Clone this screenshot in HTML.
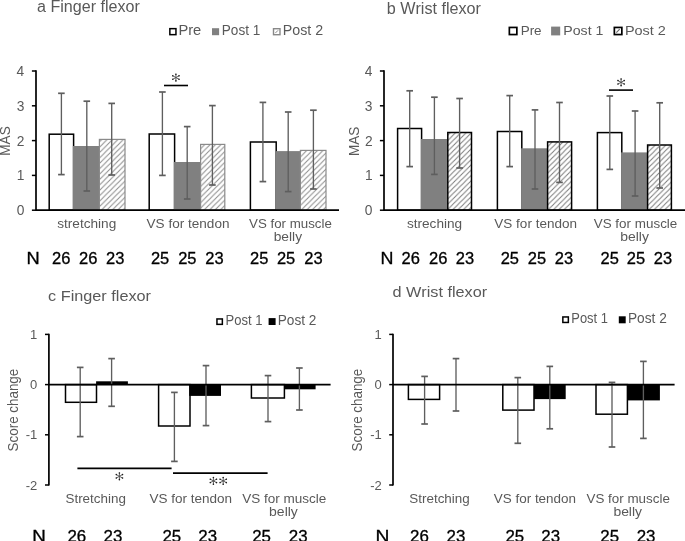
<!DOCTYPE html>
<html><head><meta charset="utf-8"><style>
html,body{margin:0;padding:0;background:#fff;width:685px;height:541px;overflow:hidden;}
svg{display:block;will-change:transform;font-family:"Liberation Sans",sans-serif;font-kerning:none;}
</style></head><body>
<svg width="685" height="541" viewBox="0 0 685 541">
<defs>
<pattern id="hatchA" patternUnits="userSpaceOnUse" x="3.7" width="5.4" height="5.4">
<path d="M-1,6.4 L6.4,-1 M-1,1 L1,-1 M4.4,6.4 L6.4,4.4" stroke="#8a8a8a" stroke-width="1"/>
</pattern>
<pattern id="hatchB" patternUnits="userSpaceOnUse" x="0" width="5.3" height="5.3">
<path d="M-1,6.3 L6.3,-1 M-1,1 L1,-1 M4.3,6.3 L6.3,4.3" stroke="#7a7a7a" stroke-width="1"/>
</pattern>
</defs>
<rect width="685" height="541" fill="#fff"/>
<text x="37.02" y="12" font-size="16" fill="#595959" textLength="102.75" lengthAdjust="spacingAndGlyphs">a Finger flexor</text>
<rect x="169.85" y="28.65" width="6.10" height="6.00" fill="#fff" stroke="#000" stroke-width="1.5"/>
<text x="178.40" y="35.4" font-size="14.5" fill="#595959" textLength="22.86" lengthAdjust="spacingAndGlyphs">Pre</text>
<rect x="212.00" y="28.20" width="7.10" height="7.00" fill="#808080"/>
<text x="221.79" y="35.3" font-size="14.5" fill="#595959" textLength="38.48" lengthAdjust="spacingAndGlyphs">Post 1</text>
<rect x="273.50" y="28.70" width="6.50" height="6.00" fill="#fff" stroke="#888" stroke-width="1.4"/>
<line x1="275.30" y1="33.10" x2="278.10" y2="30.30" stroke="#888" stroke-width="1.0"/>
<text x="282.73" y="35.3" font-size="14.5" fill="#595959" textLength="40.39" lengthAdjust="spacingAndGlyphs">Post 2</text>
<line x1="36.00" y1="70.30" x2="36.00" y2="210.90" stroke="#000" stroke-width="1.7"/>
<line x1="31.90" y1="210.20" x2="36.00" y2="210.20" stroke="#000" stroke-width="1.5"/>
<text x="16.66" y="215.12" font-size="13.8" fill="#595959" textLength="7.67" lengthAdjust="spacingAndGlyphs">0</text>
<line x1="31.90" y1="175.40" x2="36.00" y2="175.40" stroke="#000" stroke-width="1.5"/>
<text x="16.80" y="180.32" font-size="13.8" fill="#595959" textLength="7.67" lengthAdjust="spacingAndGlyphs">1</text>
<line x1="31.90" y1="140.60" x2="36.00" y2="140.60" stroke="#000" stroke-width="1.5"/>
<text x="16.82" y="145.52" font-size="13.8" fill="#595959" textLength="7.67" lengthAdjust="spacingAndGlyphs">2</text>
<line x1="31.90" y1="105.80" x2="36.00" y2="105.80" stroke="#000" stroke-width="1.5"/>
<text x="16.73" y="110.72" font-size="13.8" fill="#595959" textLength="7.67" lengthAdjust="spacingAndGlyphs">3</text>
<line x1="31.90" y1="71.00" x2="36.00" y2="71.00" stroke="#000" stroke-width="1.5"/>
<text x="16.53" y="75.92" font-size="13.8" fill="#595959" textLength="7.67" lengthAdjust="spacingAndGlyphs">4</text>
<text transform="translate(10.2,154.6) rotate(-90)" x="-1.11" y="0" font-size="14.5" fill="#595959" textLength="29.44" lengthAdjust="spacingAndGlyphs">MAS</text>
<rect x="49.20" y="134.20" width="24.40" height="76.00" fill="#fff" stroke="#000" stroke-width="1.5"/>
<rect x="72.85" y="146.00" width="26.55" height="64.20" fill="#808080"/>
<rect x="99.40" y="139.40" width="25.60" height="70.80" fill="url(#hatchA)" stroke="#8a8a8a" stroke-width="1.2"/>
<line x1="61.40" y1="93.30" x2="61.40" y2="174.60" stroke="#5e5e5e" stroke-width="1.35"/>
<line x1="58.10" y1="93.30" x2="64.70" y2="93.30" stroke="#5e5e5e" stroke-width="1.7"/>
<line x1="58.10" y1="174.60" x2="64.70" y2="174.60" stroke="#5e5e5e" stroke-width="1.7"/>
<line x1="86.80" y1="101.20" x2="86.80" y2="191.00" stroke="#5e5e5e" stroke-width="1.35"/>
<line x1="83.50" y1="101.20" x2="90.10" y2="101.20" stroke="#5e5e5e" stroke-width="1.7"/>
<line x1="83.50" y1="191.00" x2="90.10" y2="191.00" stroke="#5e5e5e" stroke-width="1.7"/>
<line x1="111.70" y1="103.40" x2="111.70" y2="175.00" stroke="#5e5e5e" stroke-width="1.35"/>
<line x1="108.40" y1="103.40" x2="115.00" y2="103.40" stroke="#5e5e5e" stroke-width="1.7"/>
<line x1="108.40" y1="175.00" x2="115.00" y2="175.00" stroke="#5e5e5e" stroke-width="1.7"/>
<rect x="149.20" y="134.00" width="25.40" height="76.20" fill="#fff" stroke="#000" stroke-width="1.5"/>
<rect x="173.85" y="162.00" width="26.75" height="48.20" fill="#808080"/>
<rect x="200.60" y="144.40" width="24.20" height="65.80" fill="url(#hatchA)" stroke="#8a8a8a" stroke-width="1.2"/>
<line x1="162.40" y1="92.00" x2="162.40" y2="175.40" stroke="#5e5e5e" stroke-width="1.35"/>
<line x1="159.10" y1="92.00" x2="165.70" y2="92.00" stroke="#5e5e5e" stroke-width="1.7"/>
<line x1="159.10" y1="175.40" x2="165.70" y2="175.40" stroke="#5e5e5e" stroke-width="1.7"/>
<line x1="187.20" y1="126.60" x2="187.20" y2="199.00" stroke="#5e5e5e" stroke-width="1.35"/>
<line x1="183.90" y1="126.60" x2="190.50" y2="126.60" stroke="#5e5e5e" stroke-width="1.7"/>
<line x1="183.90" y1="199.00" x2="190.50" y2="199.00" stroke="#5e5e5e" stroke-width="1.7"/>
<line x1="212.40" y1="105.60" x2="212.40" y2="185.00" stroke="#5e5e5e" stroke-width="1.35"/>
<line x1="209.10" y1="105.60" x2="215.70" y2="105.60" stroke="#5e5e5e" stroke-width="1.7"/>
<line x1="209.10" y1="185.00" x2="215.70" y2="185.00" stroke="#5e5e5e" stroke-width="1.7"/>
<rect x="250.40" y="142.00" width="25.80" height="68.20" fill="#fff" stroke="#000" stroke-width="1.5"/>
<rect x="275.45" y="151.10" width="24.95" height="59.10" fill="#808080"/>
<rect x="300.40" y="150.40" width="25.60" height="59.80" fill="url(#hatchA)" stroke="#8a8a8a" stroke-width="1.2"/>
<line x1="262.90" y1="102.40" x2="262.90" y2="181.60" stroke="#5e5e5e" stroke-width="1.35"/>
<line x1="259.60" y1="102.40" x2="266.20" y2="102.40" stroke="#5e5e5e" stroke-width="1.7"/>
<line x1="259.60" y1="181.60" x2="266.20" y2="181.60" stroke="#5e5e5e" stroke-width="1.7"/>
<line x1="288.20" y1="112.00" x2="288.20" y2="191.60" stroke="#5e5e5e" stroke-width="1.35"/>
<line x1="284.90" y1="112.00" x2="291.50" y2="112.00" stroke="#5e5e5e" stroke-width="1.7"/>
<line x1="284.90" y1="191.60" x2="291.50" y2="191.60" stroke="#5e5e5e" stroke-width="1.7"/>
<line x1="313.40" y1="110.20" x2="313.40" y2="189.00" stroke="#5e5e5e" stroke-width="1.35"/>
<line x1="310.10" y1="110.20" x2="316.70" y2="110.20" stroke="#5e5e5e" stroke-width="1.7"/>
<line x1="310.10" y1="189.00" x2="316.70" y2="189.00" stroke="#5e5e5e" stroke-width="1.7"/>
<line x1="36.00" y1="210.20" x2="339.00" y2="210.20" stroke="#000" stroke-width="1.8"/>
<line x1="164.00" y1="85.50" x2="188.00" y2="85.50" stroke="#000" stroke-width="1.6"/>
<g stroke="#505050" stroke-width="0.9" stroke-linecap="round"><line x1="175.90" y1="74.20" x2="175.90" y2="80.90"/><line x1="179.00" y1="75.85" x2="172.80" y2="79.25"/><line x1="179.00" y1="79.25" x2="172.80" y2="75.85"/></g><g fill="#1e1e1e"><circle cx="175.90" cy="74.20" r="0.8"/><circle cx="179.00" cy="75.85" r="0.8"/><circle cx="179.00" cy="79.25" r="0.8"/><circle cx="175.90" cy="80.90" r="0.8"/><circle cx="172.80" cy="79.25" r="0.8"/><circle cx="172.80" cy="75.85" r="0.8"/></g>
<text x="57.22" y="228" font-size="13.5" fill="#595959" textLength="59.06" lengthAdjust="spacingAndGlyphs">stretching</text>
<text x="146.54" y="227.8" font-size="13.5" fill="#595959" textLength="82.94" lengthAdjust="spacingAndGlyphs">VS for tendon</text>
<text x="249.04" y="227.8" font-size="13.5" fill="#595959" textLength="82.75" lengthAdjust="spacingAndGlyphs">VS for muscle</text>
<text x="273.71" y="241.2" font-size="13.5" fill="#595959" textLength="28.31" lengthAdjust="spacingAndGlyphs">belly</text>
<text x="26.40" y="263.8" font-size="16.3" fill="#000" textLength="13.19" lengthAdjust="spacingAndGlyphs" stroke="#000" stroke-width="0.3">N</text>
<text x="52.07" y="263.8" font-size="16.3" fill="#000" textLength="18.36" lengthAdjust="spacingAndGlyphs" stroke="#000" stroke-width="0.3">26</text>
<text x="79.02" y="263.8" font-size="16.3" fill="#000" textLength="18.36" lengthAdjust="spacingAndGlyphs" stroke="#000" stroke-width="0.3">26</text>
<text x="106.02" y="263.8" font-size="16.3" fill="#000" textLength="18.36" lengthAdjust="spacingAndGlyphs" stroke="#000" stroke-width="0.3">23</text>
<text x="150.97" y="263.8" font-size="16.3" fill="#000" textLength="18.32" lengthAdjust="spacingAndGlyphs" stroke="#000" stroke-width="0.3">25</text>
<text x="178.22" y="263.8" font-size="16.3" fill="#000" textLength="18.32" lengthAdjust="spacingAndGlyphs" stroke="#000" stroke-width="0.3">25</text>
<text x="205.27" y="263.8" font-size="16.3" fill="#000" textLength="18.36" lengthAdjust="spacingAndGlyphs" stroke="#000" stroke-width="0.3">23</text>
<text x="250.02" y="263.8" font-size="16.3" fill="#000" textLength="18.32" lengthAdjust="spacingAndGlyphs" stroke="#000" stroke-width="0.3">25</text>
<text x="276.97" y="263.8" font-size="16.3" fill="#000" textLength="18.32" lengthAdjust="spacingAndGlyphs" stroke="#000" stroke-width="0.3">25</text>
<text x="304.37" y="263.8" font-size="16.3" fill="#000" textLength="18.36" lengthAdjust="spacingAndGlyphs" stroke="#000" stroke-width="0.3">23</text>
<text x="386.76" y="13.5" font-size="16" fill="#595959" textLength="94.21" lengthAdjust="spacingAndGlyphs">b Wrist flexor</text>
<rect x="509.35" y="27.45" width="7.50" height="7.10" fill="#fff" stroke="#000" stroke-width="1.7"/>
<text x="520.70" y="35.4" font-size="13" fill="#595959" textLength="20.90" lengthAdjust="spacingAndGlyphs">Pre</text>
<rect x="551.10" y="26.60" width="9.10" height="8.80" fill="#808080"/>
<text x="563.34" y="35.4" font-size="13" fill="#595959" textLength="40.05" lengthAdjust="spacingAndGlyphs">Post 1</text>
<rect x="614.35" y="27.45" width="7.50" height="7.10" fill="#fff" stroke="#000" stroke-width="1.7"/>
<line x1="616.30" y1="32.60" x2="619.70" y2="29.20" stroke="#666" stroke-width="1.1"/>
<text x="624.91" y="35.4" font-size="13" fill="#595959" textLength="41.01" lengthAdjust="spacingAndGlyphs">Post 2</text>
<line x1="384.00" y1="70.30" x2="384.00" y2="210.90" stroke="#000" stroke-width="1.7"/>
<line x1="379.90" y1="210.20" x2="384.00" y2="210.20" stroke="#000" stroke-width="1.5"/>
<text x="364.76" y="215.12" font-size="13.8" fill="#595959" textLength="7.67" lengthAdjust="spacingAndGlyphs">0</text>
<line x1="379.90" y1="175.40" x2="384.00" y2="175.40" stroke="#000" stroke-width="1.5"/>
<text x="364.90" y="180.32" font-size="13.8" fill="#595959" textLength="7.67" lengthAdjust="spacingAndGlyphs">1</text>
<line x1="379.90" y1="140.60" x2="384.00" y2="140.60" stroke="#000" stroke-width="1.5"/>
<text x="364.92" y="145.52" font-size="13.8" fill="#595959" textLength="7.67" lengthAdjust="spacingAndGlyphs">2</text>
<line x1="379.90" y1="105.80" x2="384.00" y2="105.80" stroke="#000" stroke-width="1.5"/>
<text x="364.83" y="110.72" font-size="13.8" fill="#595959" textLength="7.67" lengthAdjust="spacingAndGlyphs">3</text>
<line x1="379.90" y1="71.00" x2="384.00" y2="71.00" stroke="#000" stroke-width="1.5"/>
<text x="364.63" y="75.92" font-size="13.8" fill="#595959" textLength="7.67" lengthAdjust="spacingAndGlyphs">4</text>
<text transform="translate(358.5,154.9) rotate(-90)" x="-1.11" y="0" font-size="14.5" fill="#595959" textLength="29.44" lengthAdjust="spacingAndGlyphs">MAS</text>
<rect x="397.60" y="128.50" width="24.00" height="81.70" fill="#fff" stroke="#000" stroke-width="1.5"/>
<rect x="420.85" y="139.00" width="26.55" height="71.20" fill="#808080"/>
<rect x="447.80" y="132.50" width="23.70" height="77.70" fill="url(#hatchB)" stroke="#000" stroke-width="1.5"/>
<line x1="409.70" y1="90.80" x2="409.70" y2="166.60" stroke="#5e5e5e" stroke-width="1.35"/>
<line x1="406.40" y1="90.80" x2="413.00" y2="90.80" stroke="#5e5e5e" stroke-width="1.7"/>
<line x1="406.40" y1="166.60" x2="413.00" y2="166.60" stroke="#5e5e5e" stroke-width="1.7"/>
<line x1="434.40" y1="97.20" x2="434.40" y2="174.40" stroke="#5e5e5e" stroke-width="1.35"/>
<line x1="431.10" y1="97.20" x2="437.70" y2="97.20" stroke="#5e5e5e" stroke-width="1.7"/>
<line x1="431.10" y1="174.40" x2="437.70" y2="174.40" stroke="#5e5e5e" stroke-width="1.7"/>
<line x1="459.60" y1="98.50" x2="459.60" y2="168.00" stroke="#5e5e5e" stroke-width="1.35"/>
<line x1="456.30" y1="98.50" x2="462.90" y2="98.50" stroke="#5e5e5e" stroke-width="1.7"/>
<line x1="456.30" y1="168.00" x2="462.90" y2="168.00" stroke="#5e5e5e" stroke-width="1.7"/>
<rect x="497.40" y="131.50" width="24.40" height="78.70" fill="#fff" stroke="#000" stroke-width="1.5"/>
<rect x="521.05" y="148.30" width="26.15" height="61.90" fill="#808080"/>
<rect x="547.60" y="141.90" width="24.00" height="68.30" fill="url(#hatchB)" stroke="#000" stroke-width="1.5"/>
<line x1="509.70" y1="95.60" x2="509.70" y2="166.60" stroke="#5e5e5e" stroke-width="1.35"/>
<line x1="506.40" y1="95.60" x2="513.00" y2="95.60" stroke="#5e5e5e" stroke-width="1.7"/>
<line x1="506.40" y1="166.60" x2="513.00" y2="166.60" stroke="#5e5e5e" stroke-width="1.7"/>
<line x1="535.00" y1="109.90" x2="535.00" y2="189.00" stroke="#5e5e5e" stroke-width="1.35"/>
<line x1="531.70" y1="109.90" x2="538.30" y2="109.90" stroke="#5e5e5e" stroke-width="1.7"/>
<line x1="531.70" y1="189.00" x2="538.30" y2="189.00" stroke="#5e5e5e" stroke-width="1.7"/>
<line x1="559.50" y1="102.50" x2="559.50" y2="182.40" stroke="#5e5e5e" stroke-width="1.35"/>
<line x1="556.20" y1="102.50" x2="562.80" y2="102.50" stroke="#5e5e5e" stroke-width="1.7"/>
<line x1="556.20" y1="182.40" x2="562.80" y2="182.40" stroke="#5e5e5e" stroke-width="1.7"/>
<rect x="597.40" y="132.60" width="24.40" height="77.60" fill="#fff" stroke="#000" stroke-width="1.5"/>
<rect x="621.05" y="152.40" width="26.15" height="57.80" fill="#808080"/>
<rect x="647.60" y="145.00" width="23.80" height="65.20" fill="url(#hatchB)" stroke="#000" stroke-width="1.5"/>
<line x1="609.80" y1="96.00" x2="609.80" y2="169.40" stroke="#5e5e5e" stroke-width="1.35"/>
<line x1="606.50" y1="96.00" x2="613.10" y2="96.00" stroke="#5e5e5e" stroke-width="1.7"/>
<line x1="606.50" y1="169.40" x2="613.10" y2="169.40" stroke="#5e5e5e" stroke-width="1.7"/>
<line x1="635.10" y1="111.00" x2="635.10" y2="196.00" stroke="#5e5e5e" stroke-width="1.35"/>
<line x1="631.80" y1="111.00" x2="638.40" y2="111.00" stroke="#5e5e5e" stroke-width="1.7"/>
<line x1="631.80" y1="196.00" x2="638.40" y2="196.00" stroke="#5e5e5e" stroke-width="1.7"/>
<line x1="659.70" y1="102.80" x2="659.70" y2="188.00" stroke="#5e5e5e" stroke-width="1.35"/>
<line x1="656.40" y1="102.80" x2="663.00" y2="102.80" stroke="#5e5e5e" stroke-width="1.7"/>
<line x1="656.40" y1="188.00" x2="663.00" y2="188.00" stroke="#5e5e5e" stroke-width="1.7"/>
<line x1="384.00" y1="210.20" x2="685.00" y2="210.20" stroke="#000" stroke-width="1.8"/>
<line x1="609.00" y1="90.10" x2="633.00" y2="90.10" stroke="#000" stroke-width="1.6"/>
<g stroke="#505050" stroke-width="0.9" stroke-linecap="round"><line x1="621.10" y1="78.95" x2="621.10" y2="85.65"/><line x1="624.20" y1="80.60" x2="618.00" y2="84.00"/><line x1="624.20" y1="84.00" x2="618.00" y2="80.60"/></g><g fill="#1e1e1e"><circle cx="621.10" cy="78.95" r="0.8"/><circle cx="624.20" cy="80.60" r="0.8"/><circle cx="624.20" cy="84.00" r="0.8"/><circle cx="621.10" cy="85.65" r="0.8"/><circle cx="618.00" cy="84.00" r="0.8"/><circle cx="618.00" cy="80.60" r="0.8"/></g>
<text x="406.92" y="228.2" font-size="13.5" fill="#595959" textLength="55.26" lengthAdjust="spacingAndGlyphs">streching</text>
<text x="494.34" y="228.0" font-size="13.5" fill="#595959" textLength="82.64" lengthAdjust="spacingAndGlyphs">VS for tendon</text>
<text x="593.74" y="228.0" font-size="13.5" fill="#595959" textLength="83.56" lengthAdjust="spacingAndGlyphs">VS for muscle</text>
<text x="620.30" y="241.2" font-size="13.5" fill="#595959" textLength="28.62" lengthAdjust="spacingAndGlyphs">belly</text>
<text x="380.53" y="263.8" font-size="16.3" fill="#000" textLength="12.93" lengthAdjust="spacingAndGlyphs" stroke="#000" stroke-width="0.3">N</text>
<text x="401.52" y="263.8" font-size="16.3" fill="#000" textLength="18.36" lengthAdjust="spacingAndGlyphs" stroke="#000" stroke-width="0.3">26</text>
<text x="429.02" y="263.8" font-size="16.3" fill="#000" textLength="18.36" lengthAdjust="spacingAndGlyphs" stroke="#000" stroke-width="0.3">26</text>
<text x="455.87" y="263.8" font-size="16.3" fill="#000" textLength="18.36" lengthAdjust="spacingAndGlyphs" stroke="#000" stroke-width="0.3">23</text>
<text x="500.67" y="263.8" font-size="16.3" fill="#000" textLength="18.32" lengthAdjust="spacingAndGlyphs" stroke="#000" stroke-width="0.3">25</text>
<text x="527.77" y="263.8" font-size="16.3" fill="#000" textLength="18.32" lengthAdjust="spacingAndGlyphs" stroke="#000" stroke-width="0.3">25</text>
<text x="554.87" y="263.8" font-size="16.3" fill="#000" textLength="18.36" lengthAdjust="spacingAndGlyphs" stroke="#000" stroke-width="0.3">23</text>
<text x="600.52" y="263.8" font-size="16.3" fill="#000" textLength="18.32" lengthAdjust="spacingAndGlyphs" stroke="#000" stroke-width="0.3">25</text>
<text x="626.87" y="263.8" font-size="16.3" fill="#000" textLength="18.32" lengthAdjust="spacingAndGlyphs" stroke="#000" stroke-width="0.3">25</text>
<text x="653.82" y="263.8" font-size="16.3" fill="#000" textLength="18.36" lengthAdjust="spacingAndGlyphs" stroke="#000" stroke-width="0.3">23</text>
<text x="48.11" y="300.9" font-size="15.5" fill="#595959" textLength="102.86" lengthAdjust="spacingAndGlyphs">c Finger flexor</text>
<rect x="216.95" y="318.95" width="5.40" height="5.40" fill="#fff" stroke="#000" stroke-width="1.5"/>
<text x="225.53" y="325.4" font-size="14" fill="#595959" textLength="36.90" lengthAdjust="spacingAndGlyphs">Post 1</text>
<rect x="268.60" y="318.10" width="7.00" height="6.90" fill="#000"/>
<text x="277.78" y="325.4" font-size="14" fill="#595959" textLength="38.71" lengthAdjust="spacingAndGlyphs">Post 2</text>
<line x1="48.90" y1="333.80" x2="48.90" y2="485.60" stroke="#000" stroke-width="1.7"/>
<line x1="45.00" y1="334.40" x2="48.90" y2="334.40" stroke="#000" stroke-width="1.5"/>
<text x="30.00" y="339.04" font-size="13" fill="#595959" textLength="7.23" lengthAdjust="spacingAndGlyphs">1</text>
<line x1="45.00" y1="384.60" x2="48.90" y2="384.60" stroke="#000" stroke-width="1.5"/>
<text x="29.88" y="389.24" font-size="13" fill="#595959" textLength="7.23" lengthAdjust="spacingAndGlyphs">0</text>
<line x1="45.00" y1="434.80" x2="48.90" y2="434.80" stroke="#000" stroke-width="1.5"/>
<text x="25.68" y="439.44" font-size="13" fill="#595959" textLength="11.56" lengthAdjust="spacingAndGlyphs">-1</text>
<line x1="45.00" y1="485.00" x2="48.90" y2="485.00" stroke="#000" stroke-width="1.5"/>
<text x="25.69" y="489.64" font-size="13" fill="#595959" textLength="11.56" lengthAdjust="spacingAndGlyphs">-2</text>
<text transform="translate(17.5,450.8) rotate(-90)" x="-0.61" y="0" font-size="14" fill="#595959" textLength="82.70" lengthAdjust="spacingAndGlyphs">Score change</text>
<rect x="65.50" y="384.60" width="31.00" height="17.70" fill="#fff" stroke="#000" stroke-width="1.5"/>
<rect x="96.10" y="381.30" width="31.80" height="3.30" fill="#000"/>
<line x1="80.20" y1="367.40" x2="80.20" y2="436.60" stroke="#5e5e5e" stroke-width="1.35"/>
<line x1="76.90" y1="367.40" x2="83.50" y2="367.40" stroke="#5e5e5e" stroke-width="1.7"/>
<line x1="76.90" y1="436.60" x2="83.50" y2="436.60" stroke="#5e5e5e" stroke-width="1.7"/>
<line x1="111.60" y1="358.60" x2="111.60" y2="406.30" stroke="#5e5e5e" stroke-width="1.35"/>
<line x1="108.30" y1="358.60" x2="114.90" y2="358.60" stroke="#5e5e5e" stroke-width="1.7"/>
<line x1="108.30" y1="406.30" x2="114.90" y2="406.30" stroke="#5e5e5e" stroke-width="1.7"/>
<rect x="158.60" y="384.60" width="31.40" height="41.40" fill="#fff" stroke="#000" stroke-width="1.5"/>
<rect x="189.20" y="384.60" width="31.80" height="11.30" fill="#000"/>
<line x1="174.40" y1="392.40" x2="174.40" y2="461.40" stroke="#5e5e5e" stroke-width="1.35"/>
<line x1="171.10" y1="392.40" x2="177.70" y2="392.40" stroke="#5e5e5e" stroke-width="1.7"/>
<line x1="171.10" y1="461.40" x2="177.70" y2="461.40" stroke="#5e5e5e" stroke-width="1.7"/>
<line x1="206.00" y1="365.60" x2="206.00" y2="425.60" stroke="#5e5e5e" stroke-width="1.35"/>
<line x1="202.70" y1="365.60" x2="209.30" y2="365.60" stroke="#5e5e5e" stroke-width="1.7"/>
<line x1="202.70" y1="425.60" x2="209.30" y2="425.60" stroke="#5e5e5e" stroke-width="1.7"/>
<rect x="251.40" y="384.60" width="33.00" height="13.40" fill="#fff" stroke="#000" stroke-width="1.5"/>
<rect x="284.40" y="384.60" width="31.20" height="4.70" fill="#000"/>
<line x1="268.00" y1="375.60" x2="268.00" y2="421.60" stroke="#5e5e5e" stroke-width="1.35"/>
<line x1="264.70" y1="375.60" x2="271.30" y2="375.60" stroke="#5e5e5e" stroke-width="1.7"/>
<line x1="264.70" y1="421.60" x2="271.30" y2="421.60" stroke="#5e5e5e" stroke-width="1.7"/>
<line x1="299.40" y1="368.00" x2="299.40" y2="410.00" stroke="#5e5e5e" stroke-width="1.35"/>
<line x1="296.10" y1="368.00" x2="302.70" y2="368.00" stroke="#5e5e5e" stroke-width="1.7"/>
<line x1="296.10" y1="410.00" x2="302.70" y2="410.00" stroke="#5e5e5e" stroke-width="1.7"/>
<line x1="48.90" y1="384.60" x2="330.60" y2="384.60" stroke="#000" stroke-width="1.8"/>
<line x1="77.40" y1="468.40" x2="171.60" y2="468.40" stroke="#000" stroke-width="1.6"/>
<g stroke="#505050" stroke-width="0.9" stroke-linecap="round"><line x1="119.40" y1="472.95" x2="119.40" y2="479.65"/><line x1="122.50" y1="474.60" x2="116.30" y2="478.00"/><line x1="122.50" y1="478.00" x2="116.30" y2="474.60"/></g><g fill="#1e1e1e"><circle cx="119.40" cy="472.95" r="0.8"/><circle cx="122.50" cy="474.60" r="0.8"/><circle cx="122.50" cy="478.00" r="0.8"/><circle cx="119.40" cy="479.65" r="0.8"/><circle cx="116.30" cy="478.00" r="0.8"/><circle cx="116.30" cy="474.60" r="0.8"/></g>
<line x1="173.00" y1="473.20" x2="267.60" y2="473.20" stroke="#000" stroke-width="1.7"/>
<g stroke="#505050" stroke-width="0.9" stroke-linecap="round"><line x1="213.40" y1="477.55" x2="213.40" y2="484.25"/><line x1="216.50" y1="479.20" x2="210.30" y2="482.60"/><line x1="216.50" y1="482.60" x2="210.30" y2="479.20"/></g><g fill="#1e1e1e"><circle cx="213.40" cy="477.55" r="0.8"/><circle cx="216.50" cy="479.20" r="0.8"/><circle cx="216.50" cy="482.60" r="0.8"/><circle cx="213.40" cy="484.25" r="0.8"/><circle cx="210.30" cy="482.60" r="0.8"/><circle cx="210.30" cy="479.20" r="0.8"/></g>
<g stroke="#505050" stroke-width="0.9" stroke-linecap="round"><line x1="223.20" y1="477.55" x2="223.20" y2="484.25"/><line x1="226.30" y1="479.20" x2="220.10" y2="482.60"/><line x1="226.30" y1="482.60" x2="220.10" y2="479.20"/></g><g fill="#1e1e1e"><circle cx="223.20" cy="477.55" r="0.8"/><circle cx="226.30" cy="479.20" r="0.8"/><circle cx="226.30" cy="482.60" r="0.8"/><circle cx="223.20" cy="484.25" r="0.8"/><circle cx="220.10" cy="482.60" r="0.8"/><circle cx="220.10" cy="479.20" r="0.8"/></g>
<text x="65.49" y="502.9" font-size="13.5" fill="#595959" textLength="60.37" lengthAdjust="spacingAndGlyphs">Stretching</text>
<text x="149.44" y="502.9" font-size="13.5" fill="#595959" textLength="82.64" lengthAdjust="spacingAndGlyphs">VS for tendon</text>
<text x="242.24" y="502.9" font-size="13.5" fill="#595959" textLength="84.16" lengthAdjust="spacingAndGlyphs">VS for muscle</text>
<text x="269.10" y="516" font-size="13.5" fill="#595959" textLength="28.73" lengthAdjust="spacingAndGlyphs">belly</text>
<text x="32.26" y="541.5" font-size="16.3" fill="#000" textLength="13.57" lengthAdjust="spacingAndGlyphs" stroke="#000" stroke-width="0.3">N</text>
<text x="67.40" y="541.5" font-size="16.3" fill="#000" textLength="18.79" lengthAdjust="spacingAndGlyphs" stroke="#000" stroke-width="0.3">26</text>
<text x="103.50" y="541.5" font-size="16.3" fill="#000" textLength="18.79" lengthAdjust="spacingAndGlyphs" stroke="#000" stroke-width="0.3">23</text>
<text x="162.40" y="541.5" font-size="16.3" fill="#000" textLength="18.76" lengthAdjust="spacingAndGlyphs" stroke="#000" stroke-width="0.3">25</text>
<text x="198.35" y="541.5" font-size="16.3" fill="#000" textLength="18.79" lengthAdjust="spacingAndGlyphs" stroke="#000" stroke-width="0.3">23</text>
<text x="252.20" y="541.5" font-size="16.3" fill="#000" textLength="18.76" lengthAdjust="spacingAndGlyphs" stroke="#000" stroke-width="0.3">25</text>
<text x="288.85" y="541.5" font-size="16.3" fill="#000" textLength="18.79" lengthAdjust="spacingAndGlyphs" stroke="#000" stroke-width="0.3">23</text>
<text x="392.42" y="297.1" font-size="15.5" fill="#595959" textLength="94.75" lengthAdjust="spacingAndGlyphs">d Wrist flexor</text>
<rect x="562.85" y="316.95" width="5.50" height="5.50" fill="#fff" stroke="#000" stroke-width="1.5"/>
<text x="571.34" y="323.4" font-size="14" fill="#595959" textLength="36.59" lengthAdjust="spacingAndGlyphs">Post 1</text>
<rect x="618.80" y="316.30" width="6.90" height="7.00" fill="#000"/>
<text x="627.98" y="323.4" font-size="14" fill="#595959" textLength="38.81" lengthAdjust="spacingAndGlyphs">Post 2</text>
<line x1="393.00" y1="333.80" x2="393.00" y2="485.60" stroke="#000" stroke-width="1.7"/>
<line x1="389.20" y1="334.40" x2="393.00" y2="334.40" stroke="#000" stroke-width="1.5"/>
<text x="374.60" y="339.04" font-size="13" fill="#595959" textLength="7.23" lengthAdjust="spacingAndGlyphs">1</text>
<line x1="389.20" y1="384.60" x2="393.00" y2="384.60" stroke="#000" stroke-width="1.5"/>
<text x="374.48" y="389.24" font-size="13" fill="#595959" textLength="7.23" lengthAdjust="spacingAndGlyphs">0</text>
<line x1="389.20" y1="434.80" x2="393.00" y2="434.80" stroke="#000" stroke-width="1.5"/>
<text x="370.28" y="439.44" font-size="13" fill="#595959" textLength="11.56" lengthAdjust="spacingAndGlyphs">-1</text>
<line x1="389.20" y1="485.00" x2="393.00" y2="485.00" stroke="#000" stroke-width="1.5"/>
<text x="370.29" y="489.64" font-size="13" fill="#595959" textLength="11.56" lengthAdjust="spacingAndGlyphs">-2</text>
<text transform="translate(361.9,450.8) rotate(-90)" x="-0.61" y="0" font-size="14" fill="#595959" textLength="82.70" lengthAdjust="spacingAndGlyphs">Score change</text>
<rect x="408.40" y="384.60" width="31.20" height="14.80" fill="#fff" stroke="#000" stroke-width="1.5"/>
<line x1="424.60" y1="376.40" x2="424.60" y2="424.00" stroke="#5e5e5e" stroke-width="1.35"/>
<line x1="421.30" y1="376.40" x2="427.90" y2="376.40" stroke="#5e5e5e" stroke-width="1.7"/>
<line x1="421.30" y1="424.00" x2="427.90" y2="424.00" stroke="#5e5e5e" stroke-width="1.7"/>
<line x1="456.00" y1="358.60" x2="456.00" y2="411.00" stroke="#5e5e5e" stroke-width="1.35"/>
<line x1="452.70" y1="358.60" x2="459.30" y2="358.60" stroke="#5e5e5e" stroke-width="1.7"/>
<line x1="452.70" y1="411.00" x2="459.30" y2="411.00" stroke="#5e5e5e" stroke-width="1.7"/>
<rect x="502.80" y="384.60" width="31.20" height="25.50" fill="#fff" stroke="#000" stroke-width="1.5"/>
<rect x="534.00" y="384.60" width="31.70" height="14.50" fill="#000"/>
<line x1="517.80" y1="377.60" x2="517.80" y2="443.30" stroke="#5e5e5e" stroke-width="1.35"/>
<line x1="514.50" y1="377.60" x2="521.10" y2="377.60" stroke="#5e5e5e" stroke-width="1.7"/>
<line x1="514.50" y1="443.30" x2="521.10" y2="443.30" stroke="#5e5e5e" stroke-width="1.7"/>
<line x1="549.80" y1="366.40" x2="549.80" y2="428.80" stroke="#5e5e5e" stroke-width="1.35"/>
<line x1="546.50" y1="366.40" x2="553.10" y2="366.40" stroke="#5e5e5e" stroke-width="1.7"/>
<line x1="546.50" y1="428.80" x2="553.10" y2="428.80" stroke="#5e5e5e" stroke-width="1.7"/>
<rect x="596.00" y="384.60" width="31.40" height="29.60" fill="#fff" stroke="#000" stroke-width="1.5"/>
<rect x="627.40" y="384.60" width="32.50" height="15.80" fill="#000"/>
<line x1="612.00" y1="382.40" x2="612.00" y2="447.00" stroke="#5e5e5e" stroke-width="1.35"/>
<line x1="608.70" y1="382.40" x2="615.30" y2="382.40" stroke="#5e5e5e" stroke-width="1.7"/>
<line x1="608.70" y1="447.00" x2="615.30" y2="447.00" stroke="#5e5e5e" stroke-width="1.7"/>
<line x1="643.40" y1="361.40" x2="643.40" y2="438.40" stroke="#5e5e5e" stroke-width="1.35"/>
<line x1="640.10" y1="361.40" x2="646.70" y2="361.40" stroke="#5e5e5e" stroke-width="1.7"/>
<line x1="640.10" y1="438.40" x2="646.70" y2="438.40" stroke="#5e5e5e" stroke-width="1.7"/>
<line x1="393.00" y1="384.60" x2="674.60" y2="384.60" stroke="#000" stroke-width="1.8"/>
<text x="409.29" y="502.9" font-size="13.5" fill="#595959" textLength="60.48" lengthAdjust="spacingAndGlyphs">Stretching</text>
<text x="493.74" y="502.9" font-size="13.5" fill="#595959" textLength="82.33" lengthAdjust="spacingAndGlyphs">VS for tendon</text>
<text x="586.54" y="502.9" font-size="13.5" fill="#595959" textLength="83.35" lengthAdjust="spacingAndGlyphs">VS for muscle</text>
<text x="613.40" y="516" font-size="13.5" fill="#595959" textLength="28.62" lengthAdjust="spacingAndGlyphs">belly</text>
<text x="375.42" y="541.5" font-size="16.3" fill="#000" textLength="13.90" lengthAdjust="spacingAndGlyphs" stroke="#000" stroke-width="0.3">N</text>
<text x="410.05" y="541.5" font-size="16.3" fill="#000" textLength="18.79" lengthAdjust="spacingAndGlyphs" stroke="#000" stroke-width="0.3">26</text>
<text x="446.55" y="541.5" font-size="16.3" fill="#000" textLength="18.79" lengthAdjust="spacingAndGlyphs" stroke="#000" stroke-width="0.3">23</text>
<text x="505.40" y="541.5" font-size="16.3" fill="#000" textLength="18.76" lengthAdjust="spacingAndGlyphs" stroke="#000" stroke-width="0.3">25</text>
<text x="541.35" y="541.5" font-size="16.3" fill="#000" textLength="18.79" lengthAdjust="spacingAndGlyphs" stroke="#000" stroke-width="0.3">23</text>
<text x="600.30" y="541.5" font-size="16.3" fill="#000" textLength="18.76" lengthAdjust="spacingAndGlyphs" stroke="#000" stroke-width="0.3">25</text>
<text x="636.65" y="541.5" font-size="16.3" fill="#000" textLength="18.79" lengthAdjust="spacingAndGlyphs" stroke="#000" stroke-width="0.3">23</text>
</svg>
</body></html>
